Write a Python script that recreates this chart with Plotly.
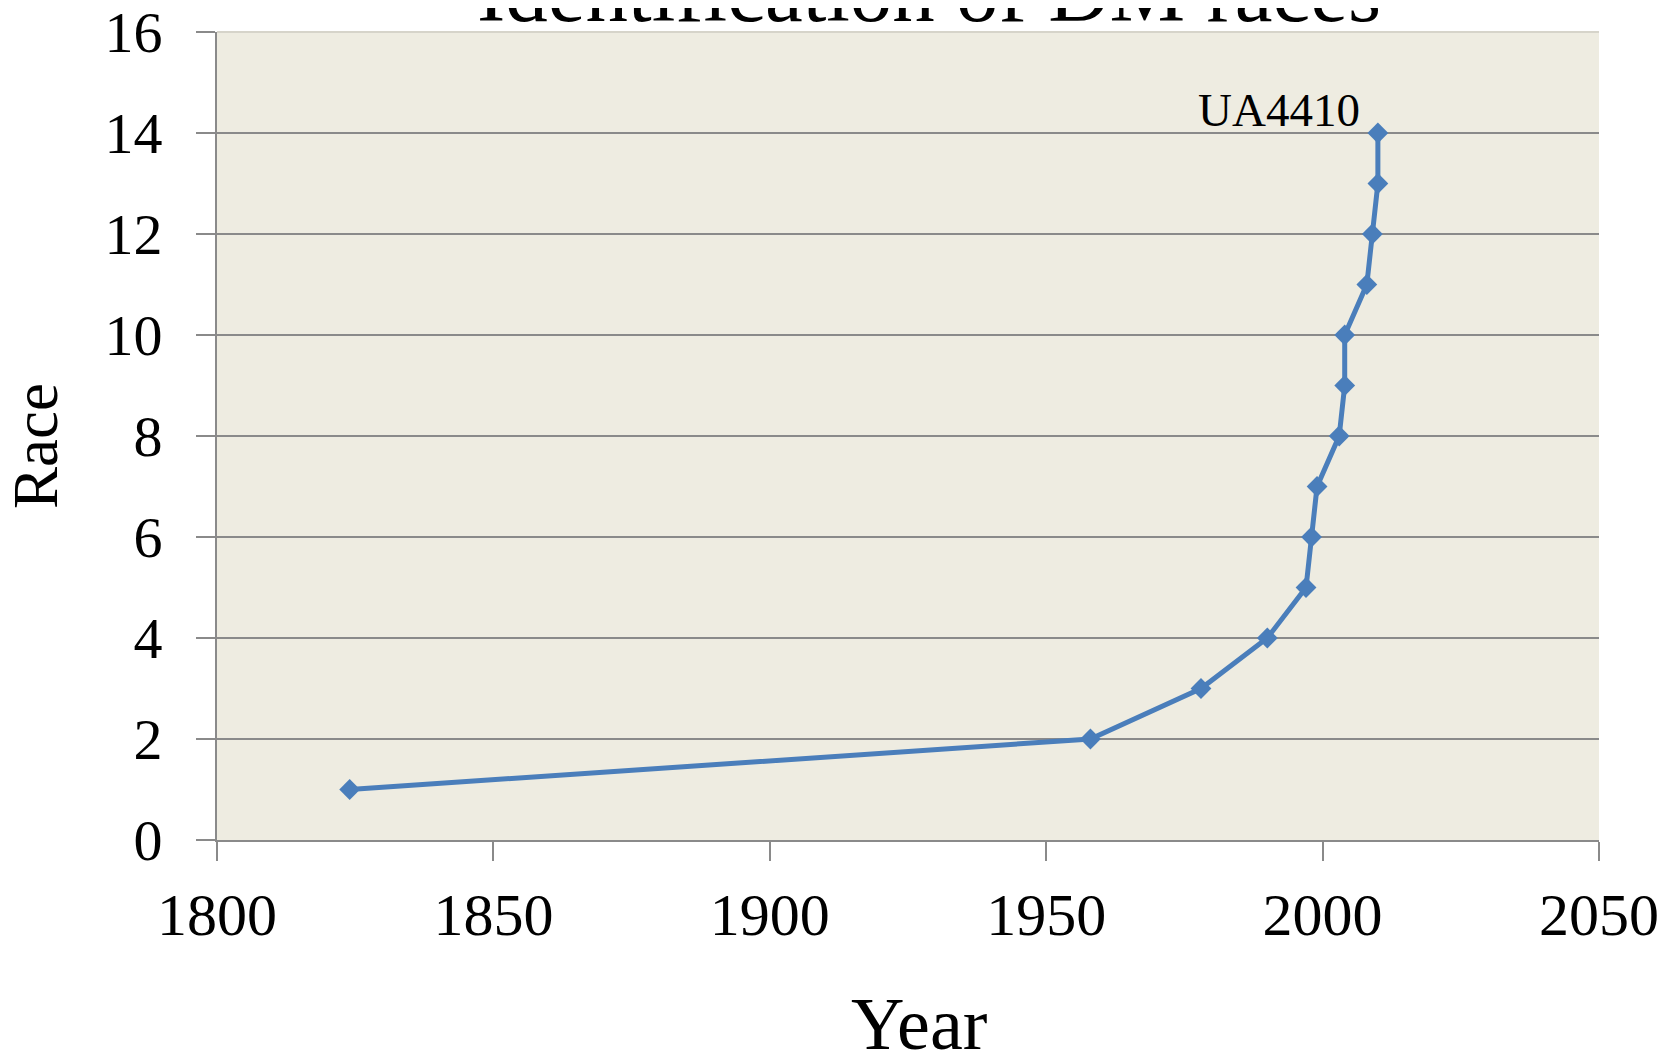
import plotly.graph_objects as go

years = [1824, 1958, 1978, 1990, 1997, 1998, 1999, 2003, 2004, 2004, 2008, 2009, 2010, 2010]
races = [1, 2, 3, 4, 5, 6, 7, 8, 9, 10, 11, 12, 13, 14]
x_ticks = [1800, 1850, 1900, 1950, 2000, 2050]
y_ticks = [0, 2, 4, 6, 8, 10, 12, 14, 16]
title_text = "Identification of DM races"
label_text = "UA4410"

OFF = 8  # page body margin
W, H = 1680, 1053
ML, MR, MT, MB = 209, 89, 24, 221
PW = W - ML - MR
PH = H - MT - MB

def py(pix):
    # page pixel row -> paper y
    return (H - MB - (pix - OFF)) / PH

def px(pix):
    return (pix - OFF - ML) / PW

FONT = "Liberation Serif, Times New Roman, serif"
GRID = "#8a8a8a"

fig = go.Figure()
fig.add_trace(go.Scatter(
    x=years, y=races, mode="lines+markers",
    line=dict(color="#4A7EBB", width=5),
    marker=dict(symbol="diamond", size=16, color="#4A7EBB"),
    showlegend=False, cliponaxis=False,
))

fig.update_layout(
    width=W, height=H,
    margin=dict(l=ML, r=MR, t=MT, b=MB, pad=0, autoexpand=False),
    paper_bgcolor="white", plot_bgcolor="#EEECE1",
    font=dict(family=FONT, color="black", size=58),
    xaxis=dict(range=[1800, 2050], tickvals=x_ticks, showgrid=False, zeroline=False,
               showline=True, linecolor=GRID, linewidth=2, automargin=False,
               ticks="outside", ticklen=19, tickwidth=2, tickcolor=GRID,
               tickfont=dict(size=60, family=FONT), ticklabelstandoff=2,
               ticklabeloverflow="allow"),
    yaxis=dict(range=[0, 16], tickvals=y_ticks, showgrid=True, gridcolor=GRID, gridwidth=2,
               zeroline=False, showline=True, linecolor=GRID, linewidth=2, automargin=False,
               ticks="outside", ticklen=19, tickwidth=2, tickcolor=GRID,
               tickfont=dict(size=58, family=FONT), ticklabelstandoff=22,
               ticklabeloverflow="allow"),
)

# faint top border of the plot area
fig.add_shape(type="line", xref="paper", yref="paper", x0=0, x1=1, y0=1, y1=1,
              line=dict(color="#d6d4ca", width=2), layer="below")

fig.add_annotation(text=title_text, xref="paper", yref="paper",
                   x=px(929), y=py(41), xanchor="center", yanchor="bottom",
                   showarrow=False, font=dict(size=85, family=FONT, color="black"))
fig.add_annotation(text="Year", xref="paper", yref="paper",
                   x=px(919), y=py(1067), xanchor="center", yanchor="bottom",
                   showarrow=False, font=dict(size=74, family=FONT, color="black"))
fig.add_annotation(text="Race", xref="paper", yref="paper", textangle=-90,
                   x=px(36), y=py(446), xanchor="center", yanchor="middle",
                   showarrow=False, font=dict(size=63, family=FONT, color="black"))
fig.add_annotation(text=label_text, xref="x", yref="y", x=years[-1], y=races[-1],
                   xanchor="right", yanchor="bottom", xshift=-16, yshift=-5,
                   showarrow=False, font=dict(size=47, family=FONT, color="black"))

fig.write_html("out.html")
